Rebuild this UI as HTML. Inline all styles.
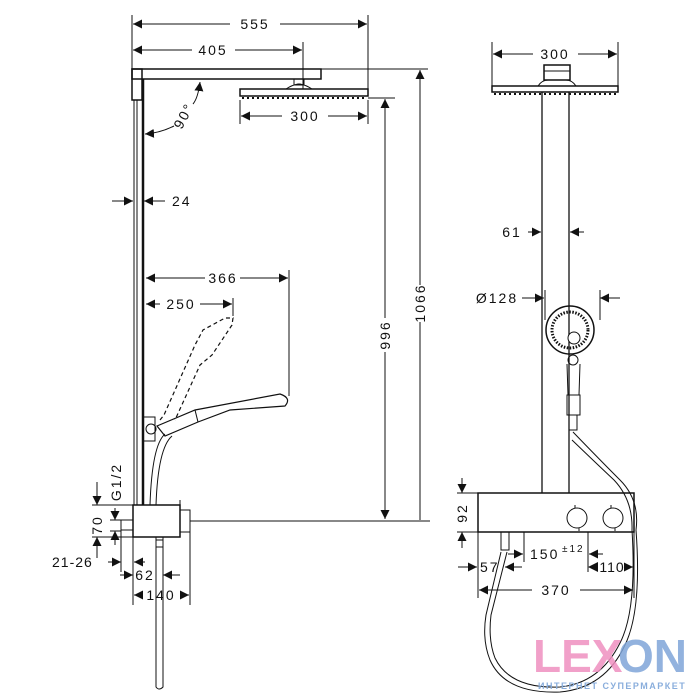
<!DOCTYPE html>
<html><head><meta charset="utf-8"><style>
html,body{margin:0;padding:0;background:#fff;}
svg{display:block}
text{font-family:"Liberation Sans",sans-serif;font-size:14px;fill:#111;letter-spacing:2px}
</style></head><body>
<svg width="700" height="700" viewBox="0 0 700 700" xmlns="http://www.w3.org/2000/svg">
<defs>
<marker id="a" viewBox="0 0 10 10" refX="10" refY="5" markerWidth="9" markerHeight="9" orient="auto-start-reverse" markerUnits="userSpaceOnUse"><path d="M0,0L10,5L0,10z" fill="#111"/></marker>
</defs>
<g stroke="#111" fill="none" stroke-width="1">
<rect x="132" y="69" width="10" height="31" stroke-width="1.5"/>
<rect x="132" y="69" width="189" height="10" stroke-width="1.5"/>
<line x1="134" y1="100" x2="134" y2="505"/>
<line x1="137" y1="100" x2="137" y2="505"/>
<line x1="143" y1="79" x2="143" y2="505" stroke-width="2.5"/>
<rect x="240" y="89" width="128" height="7" stroke-width="1.5"/>
<path d="M294,79v6h10v-6M286,89q6,-4 12,-5h2q6,1 12,5" />
<line x1="242" y1="98" x2="366" y2="98" stroke-dasharray="2,3" stroke-width="2"/>
<line x1="132" y1="15" x2="132" y2="69"/>
<line x1="368" y1="15" x2="368" y2="92"/>
<line x1="303" y1="42" x2="303" y2="89"/>
<line x1="133" y1="24" x2="230" y2="24" marker-start="url(#a)"/>
<line x1="280" y1="24" x2="367" y2="24" marker-end="url(#a)"/>
<line x1="133" y1="50" x2="192" y2="50" marker-start="url(#a)"/>
<line x1="235" y1="50" x2="302" y2="50" marker-end="url(#a)"/>
<line x1="240" y1="100" x2="240" y2="124"/>
<line x1="368" y1="100" x2="368" y2="124"/>
<line x1="241" y1="116" x2="282" y2="116" marker-start="url(#a)"/>
<line x1="328" y1="116" x2="367" y2="116" marker-end="url(#a)"/>
<path d="M200,82 Q198,98 193,104" marker-start="url(#a)"/>
<path d="M174,126 Q160,133 145,134" marker-end="url(#a)"/>
<line x1="112" y1="201" x2="133" y2="201" marker-end="url(#a)"/>
<line x1="165" y1="201" x2="144" y2="201" marker-end="url(#a)"/>
<line x1="321" y1="69" x2="428" y2="69"/>
<line x1="368" y1="98" x2="395" y2="98"/>
<line x1="420" y1="70" x2="420" y2="285" marker-start="url(#a)"/>
<line x1="420" y1="322" x2="420" y2="520"/>
<line x1="385" y1="99" x2="385" y2="318" marker-start="url(#a)"/>
<line x1="385" y1="352" x2="385" y2="519" marker-end="url(#a)"/>
<line x1="190" y1="521" x2="430" y2="521"/>
<line x1="289" y1="270" x2="289" y2="396"/>
<line x1="233" y1="298" x2="233" y2="316"/>
<line x1="146" y1="278" x2="205" y2="278" marker-start="url(#a)"/>
<line x1="240" y1="278" x2="288" y2="278" marker-end="url(#a)"/>
<line x1="146" y1="304" x2="160" y2="304" marker-start="url(#a)"/>
<line x1="200" y1="304" x2="232" y2="304" marker-end="url(#a)"/>
<path d="M160,420 L164,415 L195,345 L203,330 L225,318 L233,318 L232,325 L212,355 L200,365 L175,420" stroke-dasharray="4,3" stroke-width="1.2"/>
<rect x="143" y="417" width="12" height="24"/>
<circle cx="151" cy="429" r="5"/>
<path d="M157,426 L195,410 L280,394 Q292,398 285,406 L230,410 L198,422 L165,436 Z" stroke-width="1.2"/>
<line x1="195" y1="410" x2="198" y2="422"/>
<path d="M165,434 Q152,445 150,505 M172,436 Q158,448 156,505"/>
<rect x="133" y="505" width="47" height="32" stroke-width="1.5"/>
<rect x="121" y="520" width="12" height="10"/>
<rect x="180" y="510" width="10" height="22"/>
<line x1="180" y1="500" x2="180" y2="505"/>
<path d="M156,537v150q3,4 7,0v-150"/>
<path d="M156,540h7M156,547h7"/>
<line x1="97" y1="482" x2="97" y2="505" marker-end="url(#a)"/>
<line x1="97" y1="558" x2="97" y2="537" marker-end="url(#a)"/>
<line x1="92" y1="505" x2="133" y2="505"/>
<line x1="92" y1="537" x2="133" y2="537"/>
<line x1="115" y1="508" x2="115" y2="520" marker-end="url(#a)"/>
<line x1="115" y1="545" x2="115" y2="531" marker-end="url(#a)"/>
<line x1="110" y1="520" x2="121" y2="520"/>
<line x1="110" y1="531" x2="121" y2="531"/>
<line x1="121" y1="530" x2="121" y2="572"/>
<line x1="133" y1="537" x2="133" y2="605"/>
<line x1="190" y1="532" x2="190" y2="605"/>
<line x1="108" y1="562" x2="121" y2="562" marker-end="url(#a)"/>
<line x1="145" y1="562" x2="134" y2="562" marker-end="url(#a)"/>
<line x1="120" y1="575" x2="133" y2="575" marker-end="url(#a)"/>
<line x1="180" y1="575" x2="163" y2="575" marker-end="url(#a)"/>
<line x1="134" y1="595" x2="140" y2="595" marker-start="url(#a)"/>
<line x1="183" y1="595" x2="189" y2="595" marker-end="url(#a)"/>

<line x1="492" y1="42" x2="492" y2="86"/>
<line x1="618" y1="42" x2="618" y2="86"/>
<line x1="493" y1="54" x2="533" y2="54" marker-start="url(#a)"/>
<line x1="578" y1="54" x2="617" y2="54" marker-end="url(#a)"/>
<rect x="544" y="65" width="26" height="15" stroke-width="1.5"/>
<path d="M544,71h26M538,86q4,-6 10,-6h18q6,0 10,6"/>
<rect x="492" y="86" width="126" height="6" stroke-width="1.5"/>
<line x1="494" y1="94" x2="616" y2="94" stroke-dasharray="2,3" stroke-width="2"/>
<line x1="542" y1="92" x2="542" y2="493" stroke-width="1.3"/>
<line x1="569" y1="92" x2="569" y2="493" stroke-width="1.3"/>
<line x1="528" y1="232" x2="541" y2="232" marker-end="url(#a)"/>
<line x1="584" y1="232" x2="570" y2="232" marker-end="url(#a)"/>
<line x1="522" y1="298" x2="544" y2="298" marker-end="url(#a)"/>
<line x1="620" y1="298" x2="600" y2="298" marker-end="url(#a)"/>
<line x1="545" y1="290" x2="545" y2="320"/>
<line x1="600" y1="290" x2="600" y2="320"/>
<circle cx="570" cy="330" r="24" stroke-width="1.5"/>
<circle cx="570" cy="330" r="18" stroke-dasharray="1.5,1.5" stroke-width="3"/>
<circle cx="574" cy="338" r="6" fill="#fff"/>
<circle cx="573" cy="360" r="5"/>
<path d="M567,364 L568,395 L579,395 L580,364"/>
<rect x="567" y="395" width="13" height="20"/>
<path d="M569,415v15h8v-15"/>
<path d="M573,432 Q600,460 620,480 Q640,500 636,530 M572,440 Q598,465 614,480 Q633,500 632,530"/>
<path d="M636,530 Q642,610 625,645 Q605,688 560,692 Q505,694 490,660 Q482,640 486,615 L501,552 M632,530 Q637,610 620,643 Q600,683 560,687 Q510,689 495,658 Q488,640 491,615 L507,552"/>
<rect x="478" y="493" width="156" height="39" stroke-width="1.5"/>
<circle cx="577" cy="518" r="10"/>
<circle cx="613" cy="518" r="10"/>
<path d="M575,508v-3M611,508v-3M615,528v3M579,528v3"/>
<rect x="501" y="532" width="8" height="18"/>
<line x1="462" y1="478" x2="462" y2="493" marker-end="url(#a)"/>
<line x1="462" y1="548" x2="462" y2="532" marker-end="url(#a)"/>
<line x1="457" y1="493" x2="478" y2="493"/>
<line x1="457" y1="532" x2="478" y2="532"/>
<line x1="478" y1="532" x2="478" y2="598"/>
<line x1="634" y1="532" x2="634" y2="598"/>
<line x1="524" y1="532" x2="524" y2="562"/>
<line x1="588" y1="532" x2="588" y2="572"/>
<line x1="508" y1="554" x2="523" y2="554" marker-end="url(#a)"/>
<line x1="603" y1="554" x2="589" y2="554" marker-end="url(#a)"/>
<line x1="458" y1="567" x2="477" y2="567" marker-end="url(#a)"/>
<line x1="522" y1="567" x2="505" y2="567" marker-end="url(#a)"/>
<line x1="628" y1="567" x2="633" y2="567" marker-end="url(#a)"/>
<line x1="479" y1="590" x2="532" y2="590" marker-start="url(#a)"/>
<line x1="580" y1="590" x2="633" y2="590" marker-end="url(#a)"/>
</g>
<path d="M588,562 L598,567 L588,572 Z" fill="#111" transform="rotate(180 593 567)"/>
<text x="255" y="29" text-anchor="middle">555</text>
<text x="213" y="55" text-anchor="middle">405</text>
<text x="305" y="121" text-anchor="middle">300</text>
<text x="0" y="0" transform="translate(188,118) rotate(-62)" text-anchor="middle">90°</text>
<text x="172" y="206">24</text>
<text x="223" y="283" text-anchor="middle">366</text>
<text x="181" y="309" text-anchor="middle">250</text>
<text transform="translate(390,335) rotate(-90)" text-anchor="middle">996</text>
<text transform="translate(425,303) rotate(-90)" text-anchor="middle">1066</text>
<text transform="translate(121,482) rotate(-90)" text-anchor="middle">G1/2</text>
<text transform="translate(102,525) rotate(-90)" text-anchor="middle">70</text>
<text x="52" y="567" style="letter-spacing:1px">21-26</text>
<text x="145" y="580" text-anchor="middle">62</text>
<text x="161" y="600" text-anchor="middle">140</text>
<text x="555" y="59" text-anchor="middle">300</text>
<text x="512" y="237" text-anchor="middle">61</text>
<text x="497" y="303" text-anchor="middle">Ø128</text>
<text transform="translate(467,513) rotate(-90)" text-anchor="middle">92</text>
<text x="530" y="559">150</text>
<text x="562" y="552" style="font-size:10px">±12</text>
<text x="480" y="572">57</text>
<text x="612" y="572" text-anchor="middle" style="letter-spacing:1px">110</text>
<text x="556" y="595" text-anchor="middle">370</text>
<text x="533" y="672" style="font-size:46px;font-weight:bold;fill:#ee8fc0;fill-opacity:0.85;letter-spacing:0">LEX</text>
<text x="618" y="672" style="font-size:46px;font-weight:bold;fill:#7fa5d8;fill-opacity:0.85;letter-spacing:0">ON</text>
<text x="538" y="689" style="font-size:9px;font-weight:bold;fill:#8aaedc;letter-spacing:1.5px">ИНТЕРНЕТ СУПЕРМАРКЕТ</text>
</svg>
</body></html>
